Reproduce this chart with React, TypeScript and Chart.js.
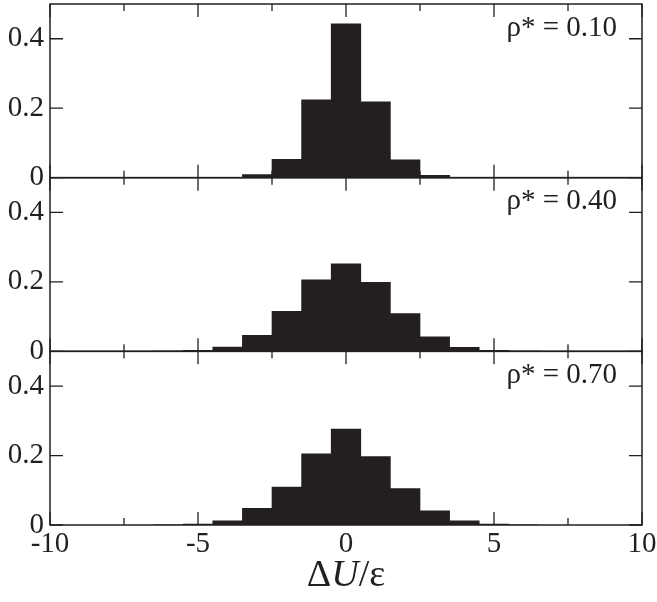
import React, { useEffect, useRef } from "react";
import { Chart, registerables } from "chart.js";

Chart.register(...registerables);

const bins = [-6, -5, -4, -3, -2, -1, 0, 1, 2, 3, 4, 5, 6];
const rho010 = [0, 0.0004, 0.0012, 0.009, 0.053, 0.224, 0.443, 0.218, 0.051, 0.007, 0.0012, 0.0004, 0];
const rho040 = [0.0006, 0.003, 0.012, 0.046, 0.115, 0.206, 0.252, 0.199, 0.109, 0.042, 0.0115, 0.003, 0.0006];
const rho070 = [0.0006, 0.003, 0.012, 0.048, 0.109, 0.205, 0.276, 0.197, 0.105, 0.041, 0.012, 0.003, 0.0006];
const panelLabels = ["ρ* = 0.10", "ρ* = 0.40", "ρ* = 0.70"];
const xTickLabels = ["-10", "-5", "0", "5", "10"];
const yTickLabels = ["0", "0.2", "0.4"];

const FONT = "'Liberation Serif', 'Times New Roman', serif";
const INK = "#231f20";
const panelIds = ["yA", "yB", "yC"];

const framePlugin = {
  id: "framePlugin",
  afterDatasetsDraw(chart: any) {
    const ctx = chart.ctx;
    const x = chart.scales.x;
    const left = x.left;
    const right = x.right;
    ctx.save();
    ctx.strokeStyle = INK;
    panelIds.forEach((id, i) => {
      const s = chart.scales[id];
      const top = s.top;
      const bottom = s.bottom;
      ctx.lineWidth = 1.5;
      ctx.strokeRect(left, top, right - left, bottom - top);
      ctx.lineWidth = 1.3;
      // y ticks
      s.ticks.forEach((t: any) => {
        const v = Math.round(t.value * 10);
        const len = v % 2 === 0 ? 13 : 7;
        const py = s.getPixelForValue(t.value);
        ctx.beginPath();
        ctx.moveTo(left, py);
        ctx.lineTo(left + len, py);
        ctx.moveTo(right, py);
        ctx.lineTo(right - len, py);
        ctx.stroke();
      });
      // x ticks
      x.ticks.forEach((t: any) => {
        const v = Math.round(t.value * 2);
        const len = v % 10 === 0 ? 13 : 7;
        const px = x.getPixelForValue(t.value);
        ctx.beginPath();
        ctx.moveTo(px, bottom);
        ctx.lineTo(px, bottom - len);
        ctx.moveTo(px, top);
        ctx.lineTo(px, top + len);
        ctx.stroke();
      });
      // panel label
      ctx.fillStyle = INK;
      ctx.font = `29px ${FONT}`;
      ctx.textAlign = "right";
      ctx.textBaseline = "middle";
      ctx.fillText(panelLabels[i], right - 25, top + 24);
    });
    // axis title  ΔU/ε
    const cx = (left + right) / 2;
    const ty = 576;
    const size = 38;
    const parts = [
      { t: "Δ", f: `${size}px ${FONT}` },
      { t: "U", f: `italic ${size}px ${FONT}` },
      { t: "/ε", f: `${size}px ${FONT}` },
    ];
    let total = 0;
    parts.forEach((p) => {
      ctx.font = p.f;
      total += ctx.measureText(p.t).width;
    });
    let px = cx - total / 2;
    ctx.fillStyle = INK;
    ctx.textAlign = "left";
    ctx.textBaseline = "middle";
    parts.forEach((p) => {
      ctx.font = p.f;
      ctx.fillText(p.t, px, ty);
      px += ctx.measureText(p.t).width;
    });
    ctx.restore();
  },
};

function makeY() {
  return {
    type: "linear",
    position: "left",
    stack: "panels",
    stackWeight: 1,
    min: 0,
    max: 0.5,
    grid: { display: false, drawTicks: false },
    border: { display: false },
    afterFit: (s: any) => {
      s.width = 50;
      s.paddingTop = 0;
      s.paddingBottom = 0;
    },
    ticks: {
      stepSize: 0.1,
      padding: 6,
      color: INK,
      font: { family: FONT, size: 29, lineHeight: 1 },
      callback: (v: number) => {
        const k = Math.round(v * 10);
        if (k === 0) return yTickLabels[0];
        if (k === 2) return yTickLabels[1];
        if (k === 4) return yTickLabels[2];
        return "";
      },
    },
  };
}

export default function App() {
  const ref = useRef<HTMLCanvasElement | null>(null);
  useEffect(() => {
    if (!ref.current) return;
    const series = [rho010, rho040, rho070];
    const chart = new Chart(ref.current, {
      type: "bar",
      data: {
        datasets: series.map((vals, i) => ({
          label: panelLabels[i],
          data: bins.map((b, j) => ({ x: b, y: vals[j] })),
          yAxisID: panelIds[i],
          xAxisID: "x",
          backgroundColor: INK,
          borderWidth: 0,
          barPercentage: 1,
          categoryPercentage: 1,
          grouped: false,
        })),
      },
      options: {
        animation: false,
        responsive: false,
        events: [],
        layout: { autoPadding: false, padding: { top: 4, right: 15, left: 0, bottom: 0 } },
        plugins: { legend: { display: false }, tooltip: { enabled: false } },
        scales: {
          x: {
            type: "linear",
            min: -10,
            max: 10,
            offset: false,
            grid: { display: false, drawTicks: false, offset: false },
            border: { display: false },
            afterFit: (s: any) => {
              s.height = 77;
              s.paddingLeft = 0;
              s.paddingRight = 0;
            },
            ticks: {
              stepSize: 2.5,
              autoSkip: false,
              maxRotation: 0,
              padding: 5,
              color: INK,
              font: { family: FONT, size: 29, lineHeight: 1 },
              callback: (v: number) => {
                const k = Math.round(v * 2);
                if (k % 10 !== 0) return "";
                return xTickLabels[(k + 20) / 10];
              },
            },
          },
          // stacked axes are laid out bottom-first
          yC: makeY(),
          yB: makeY(),
          yA: makeY(),
        } as any,
      },
      plugins: [framePlugin],
    } as any);
    return () => chart.destroy();
  }, []);
  return (
    <div style={{ position: "absolute", left: 0, top: 0, width: 657, height: 602, background: "#fff" }}>
      <canvas ref={ref} width={657} height={602} style={{ width: 657, height: 602, display: "block" }} />
    </div>
  );
}
